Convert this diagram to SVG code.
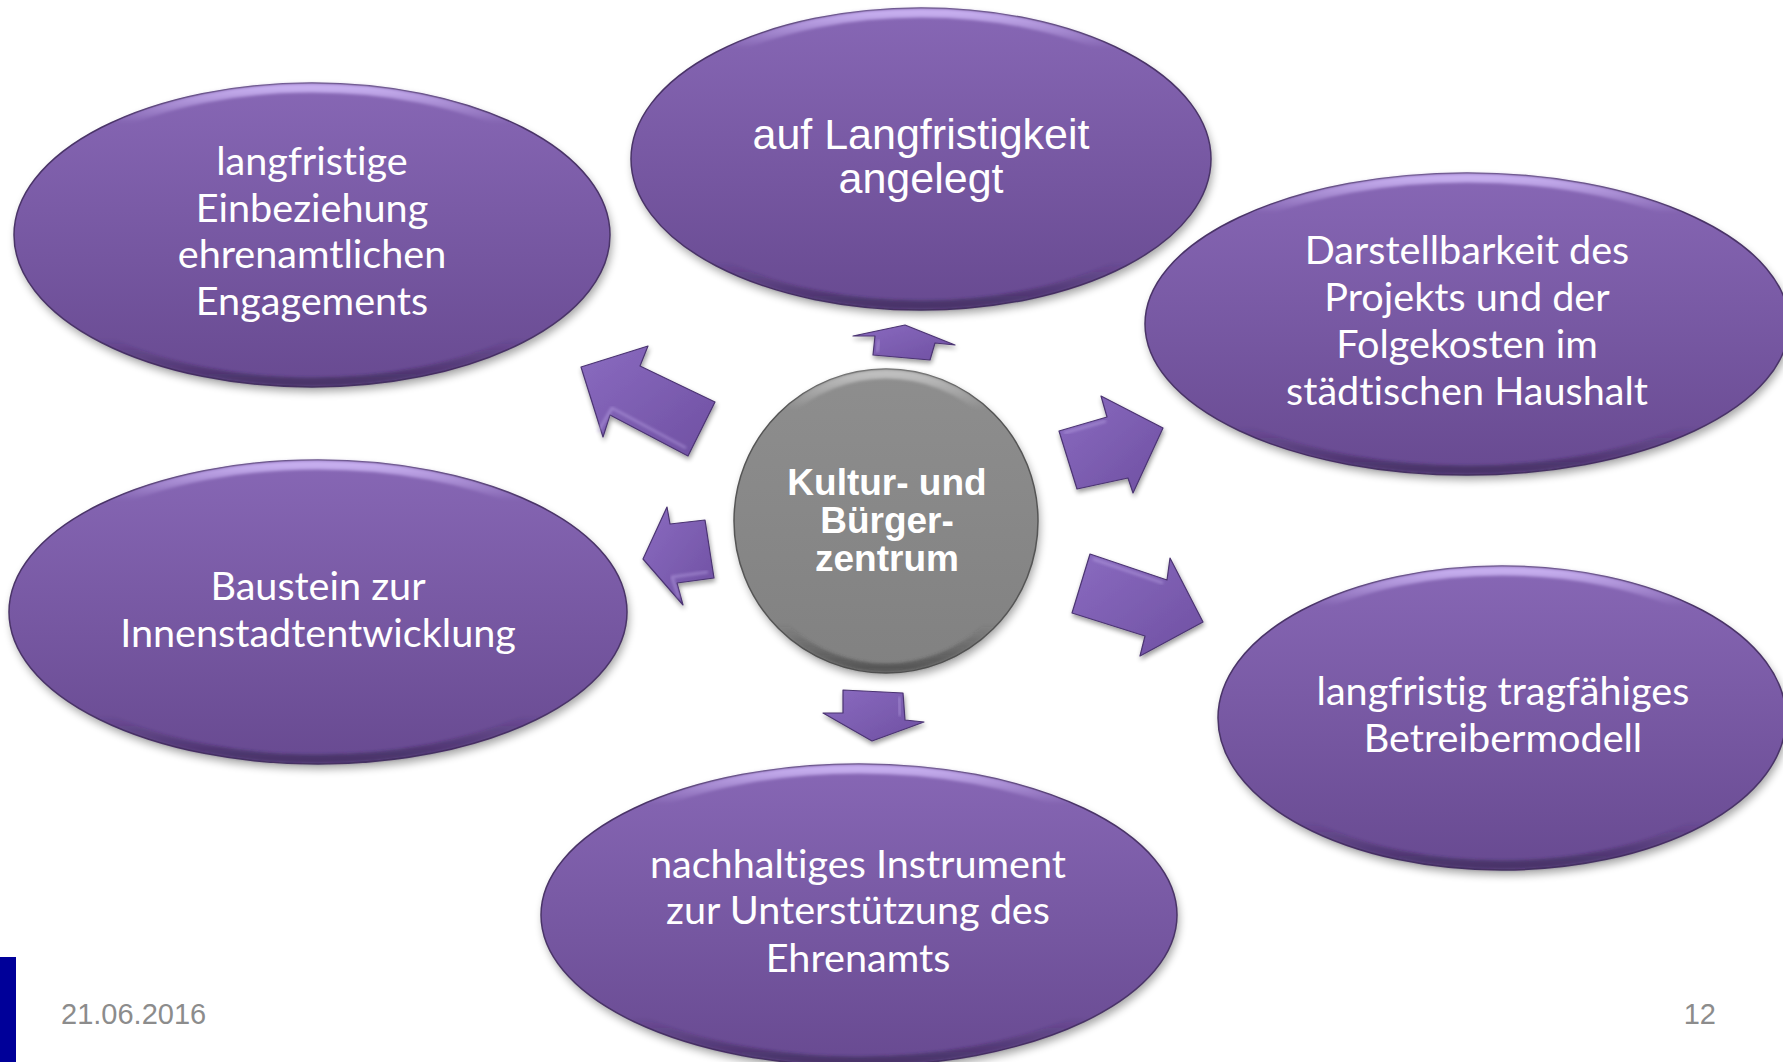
<svg xmlns="http://www.w3.org/2000/svg" width="1783" height="1062" viewBox="0 0 1783 1062">
  <defs>
    <style>
      .lbl { font-family: Lato, "Open Sans", sans-serif; font-size: 39.6px; fill: #ffffff; text-anchor: middle; font-variant-ligatures: none; font-feature-settings: "liga" 0, "clig" 0; }
      .lblA { font-family: "Liberation Sans", Arial, sans-serif; font-size: 43px; fill: #ffffff; text-anchor: middle; }
      .core { font-family: "Liberation Sans", Arial, sans-serif; font-size: 37px; font-weight: bold; fill: #ffffff; text-anchor: middle; }
      .foot { font-family: "Liberation Sans", Arial, sans-serif; font-size: 29px; fill: #8c8c8c; }
      .body { fill: url(#gPurple); stroke: #4a3468; stroke-width: 1.5; }
      .rim { fill: none; stroke: url(#gRim); stroke-width: 9; filter: url(#soft); }
      .shade { fill: #000000; opacity: 0.35; filter: url(#blur); }
      .arrow { fill: url(#gArrow); stroke: #4b3472; stroke-width: 1.2; stroke-linejoin: round; filter: url(#drop); }
      .arrowHi { fill: none; stroke: #c2adeb; stroke-width: 2.5; opacity: 0.5; stroke-linejoin: round; filter: url(#soft); }
    </style>
    <linearGradient id="gPurple" x1="0" y1="0" x2="0" y2="1">
      <stop offset="0" stop-color="#8767b5"/>
      <stop offset="1" stop-color="#684a91"/>
    </linearGradient>
    <linearGradient id="gRim" x1="0" y1="0" x2="0" y2="1">
      <stop offset="0" stop-color="#cdb6f5" stop-opacity="0.9"/>
      <stop offset="0.12" stop-color="#cdb6f5" stop-opacity="0"/>
      <stop offset="0.85" stop-color="#2e1e48" stop-opacity="0"/>
      <stop offset="1" stop-color="#2e1e48" stop-opacity="0.55"/>
    </linearGradient>
    <linearGradient id="gGrey" x1="0" y1="0" x2="0" y2="1">
      <stop offset="0" stop-color="#8e8e8e"/>
      <stop offset="1" stop-color="#818181"/>
    </linearGradient>
    <linearGradient id="gGreyRim" x1="0" y1="0" x2="0" y2="1">
      <stop offset="0" stop-color="#c4c4c4" stop-opacity="0.9"/>
      <stop offset="0.12" stop-color="#c4c4c4" stop-opacity="0"/>
      <stop offset="0.85" stop-color="#3a3a3a" stop-opacity="0"/>
      <stop offset="1" stop-color="#3a3a3a" stop-opacity="0.6"/>
    </linearGradient>
    <linearGradient id="gArrow" x1="0" y1="0" x2="1" y2="1">
      <stop offset="0" stop-color="#8a6bc0"/>
      <stop offset="1" stop-color="#6f50a2"/>
    </linearGradient>
    <filter id="blur" x="-10%" y="-10%" width="120%" height="130%">
      <feGaussianBlur stdDeviation="4"/>
    </filter>
    <filter id="soft" x="-5%" y="-5%" width="110%" height="110%">
      <feGaussianBlur stdDeviation="1.5"/>
    </filter>
    <filter id="drop" x="-20%" y="-20%" width="150%" height="160%">
      <feGaussianBlur in="SourceAlpha" stdDeviation="2.5"/>
      <feOffset dx="1" dy="3" result="o"/>
      <feComponentTransfer><feFuncA type="linear" slope="0.4"/></feComponentTransfer>
      <feMerge><feMergeNode/><feMergeNode in="SourceGraphic"/></feMerge>
    </filter>
  </defs>

  <rect width="1783" height="1062" fill="#ffffff"/>

  <!-- outward arrows from the centre, each with a faint bevel highlight -->
  <g id="connectors">
    <polygon class="arrow" points="581,367 648,346 640,366 715,402 688,456 610,415 603,437"/>
    <polyline class="arrowHi" points="598,432 612,408 686,448"/>
    <polygon class="arrow" points="643,559 667,507 670,524 705,520 714,578 677,583 683,605"/>
    <polyline class="arrowHi" points="679,598 672,577 708,572"/>
    <polygon class="arrow" points="905,325 955,345 935,343 930,360 873,355 875,336 853,336"/>
    <polyline class="arrowHi" points="877,352 879,340"/>
    <polygon class="arrow" points="843,690 903,693 905,720 924,722 872,741 823,713 843,713"/>
    <polyline class="arrowHi" points="899,697 900,716"/>
    <polygon class="arrow" points="1059,431 1107,417 1101,396 1163,428 1133,493 1128,478 1077,489"/>
    <polyline class="arrowHi" points="1064,433 1106,421"/>
    <polygon class="arrow" points="1090,554 1167,580 1170,558 1203,622 1140,656 1145,636 1072,613"/>
    <polyline class="arrowHi" points="1093,559 1163,583"/>
  </g>

  <g id="node-einbeziehung">
    <ellipse class="shade" cx="314" cy="240" rx="298" ry="152"/>
    <ellipse class="body" cx="312" cy="235" rx="298" ry="152"/>
    <ellipse class="rim" cx="312" cy="235" rx="293" ry="147"/>
    <text class="lbl"><tspan x="312" y="175">langfristige</tspan><tspan x="312" y="222">Einbeziehung</tspan><tspan x="312" y="268">ehrenamtlichen</tspan><tspan x="312" y="315">Engagements</tspan></text>
  </g>

  <g id="node-langfristigkeit">
    <ellipse class="shade" cx="923" cy="164" rx="290" ry="151"/>
    <ellipse class="body" cx="921" cy="159" rx="290" ry="151"/>
    <ellipse class="rim" cx="921" cy="159" rx="285" ry="146"/>
    <text class="lblA"><tspan x="921" y="149">auf Langfristigkeit</tspan><tspan x="921" y="193">angelegt</tspan></text>
  </g>

  <g id="node-haushalt">
    <ellipse class="shade" cx="1469" cy="329" rx="322" ry="151"/>
    <ellipse class="body" cx="1467" cy="324" rx="322" ry="151"/>
    <ellipse class="rim" cx="1467" cy="324" rx="317" ry="146"/>
    <text class="lbl"><tspan x="1467" y="264">Darstellbarkeit des</tspan><tspan x="1467" y="311">Projekts und der</tspan><tspan x="1467" y="358">Folgekosten im</tspan><tspan x="1467" y="405">städtischen Haushalt</tspan></text>
  </g>

  <g id="node-innenstadt">
    <ellipse class="shade" cx="320" cy="617" rx="309" ry="152"/>
    <ellipse class="body" cx="318" cy="612" rx="309" ry="152"/>
    <ellipse class="rim" cx="318" cy="612" rx="304" ry="147"/>
    <text class="lbl"><tspan x="318" y="600">Baustein zur</tspan><tspan x="318" y="647">Innenstadtentwicklung</tspan></text>
  </g>

  <g id="node-betreibermodell">
    <ellipse class="shade" cx="1504" cy="723" rx="284" ry="152"/>
    <ellipse class="body" cx="1502" cy="718" rx="284" ry="152"/>
    <ellipse class="rim" cx="1502" cy="718" rx="279" ry="147"/>
    <text class="lbl"><tspan x="1503" y="705">langfristig tragfähiges</tspan><tspan x="1503" y="752">Betreibermodell</tspan></text>
  </g>

  <g id="node-ehrenamt">
    <ellipse class="shade" cx="861" cy="920" rx="318" ry="151"/>
    <ellipse class="body" cx="859" cy="915" rx="318" ry="151"/>
    <ellipse class="rim" cx="859" cy="915" rx="313" ry="146"/>
    <text class="lbl"><tspan x="858" y="878">nachhaltiges Instrument</tspan><tspan x="858" y="924">zur Unterstützung des</tspan><tspan x="858" y="972">Ehrenamts</tspan></text>
  </g>

  <g id="node-zentrum">
    <ellipse class="shade" cx="888" cy="526" rx="152" ry="152"/>
    <ellipse cx="886" cy="521" rx="152" ry="152" fill="url(#gGrey)" stroke="#555555" stroke-width="1.5"/>
    <ellipse cx="886" cy="521" rx="147" ry="147" fill="none" stroke="url(#gGreyRim)" stroke-width="9" filter="url(#soft)"/>
    <text class="core"><tspan x="887" y="495">Kultur- und</tspan><tspan x="887" y="533">Bürger-</tspan><tspan x="887" y="571">zentrum</tspan></text>
  </g>

  <!-- footer -->
  <rect x="0" y="957" width="16" height="105" fill="#000099"/>
  <text class="foot" x="61" y="1024">21.06.2016</text>
  <text class="foot" x="1716" y="1024" text-anchor="end">12</text>
</svg>
